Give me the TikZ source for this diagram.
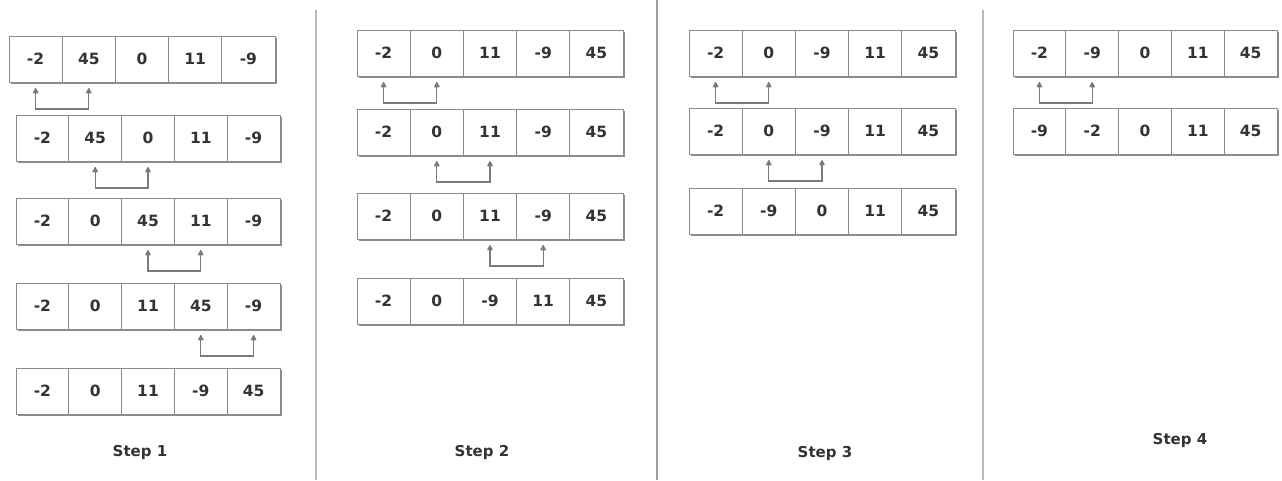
\documentclass[tikz,border=0pt]{standalone}
\usepackage{fontspec}
\setmainfont{DejaVu Sans}
\usetikzlibrary{arrows.meta,shadows}
\definecolor{txt}{HTML}{333333}
\definecolor{edge}{HTML}{8A8A8A}
\definecolor{arr}{HTML}{7A7A7A}
\tikzset{
  cellbox/.style={draw=edge, line width=1pt, fill=white, inner sep=0pt, outer sep=0pt,
    minimum height=46pt, text=txt, font=\fontsize{15.5}{17}\selectfont\bfseries,
    drop shadow={shadow xshift=1.5pt, shadow yshift=-2.2pt, fill=black!45, opacity=1}},
  swaparrow/.style={draw=arr, line width=1.1pt, {Triangle[length=6pt,width=6pt,round]}-{Triangle[length=6pt,width=6pt,round]}},
  sepline/.style={draw=black!28, line width=1.3pt},
  steplabel/.style={text=txt, font=\fontsize{15}{17}\selectfont\bfseries}
}
% \cellrow{name}{x0}{ytop}{width}{values}
\newcommand{\cellrow}[5]{%
  \foreach \v [count=\i] in {#5} {
    \node[cellbox, minimum width=#4 pt] (#1-\i) at ({#2+(\i-0.5)*#4}, {#3+23}) {\v};
  }%
}
% \swapar{row}{i}{j}
\newcommand{\swapar}[3]{%
  \draw[swaparrow] ([yshift=-6pt]#1-#2.south) -- ([yshift=-27pt]#1-#2.south) -| ([yshift=-6pt]#1-#3.south);%
}
\begin{document}
\begin{tikzpicture}[x=1pt,y=-1pt]
\useasboundingbox (0,0) rectangle (1282,480);
% separators
\coordinate (s1t) at (316,10); \coordinate (s1b) at (316,480);
\coordinate (s2t) at (657,0);  \coordinate (s2b) at (657,480);
\coordinate (s3t) at (983,10); \coordinate (s3b) at (983,480);
\draw[sepline] (s1t) -- (s1b);
\draw[sepline, draw=black!38] (s2t) -- (s2b);
\draw[sepline] (s3t) -- (s3b);
% Step 1
\cellrow{a1}{9}{36}{53.2}{-2,45,0,11,-9}
\cellrow{a2}{16}{115}{52.8}{-2,45,0,11,-9}
\cellrow{a3}{16}{198}{52.8}{-2,0,45,11,-9}
\cellrow{a4}{16}{283}{52.8}{-2,0,11,45,-9}
\cellrow{a5}{16}{368}{52.8}{-2,0,11,-9,45}
\swapar{a1}{1}{2}
\swapar{a2}{2}{3}
\swapar{a3}{3}{4}
\swapar{a4}{4}{5}
\node[steplabel] (l1) at (140,452) {Step 1};
% Step 2
\cellrow{b1}{357}{30}{53.2}{-2,0,11,-9,45}
\cellrow{b2}{357}{109}{53.2}{-2,0,11,-9,45}
\cellrow{b3}{357}{193}{53.2}{-2,0,11,-9,45}
\cellrow{b4}{357}{278}{53.2}{-2,0,-9,11,45}
\swapar{b1}{1}{2}
\swapar{b2}{2}{3}
\swapar{b3}{3}{4}
\node[steplabel] (l2) at (482,452) {Step 2};
% Step 3
\cellrow{c1}{689}{30}{53.2}{-2,0,-9,11,45}
\cellrow{c2}{689}{108}{53.2}{-2,0,-9,11,45}
\cellrow{c3}{689}{188}{53.2}{-2,-9,0,11,45}
\swapar{c1}{1}{2}
\swapar{c2}{2}{3}
\node[steplabel] (l3) at (825,453) {Step 3};
% Step 4
\cellrow{d1}{1013}{30}{52.8}{-2,-9,0,11,45}
\cellrow{d2}{1013}{108}{52.8}{-9,-2,0,11,45}
\swapar{d1}{1}{2}
\node[steplabel] (l4) at (1180,440) {Step 4};
\end{tikzpicture}
\end{document}
